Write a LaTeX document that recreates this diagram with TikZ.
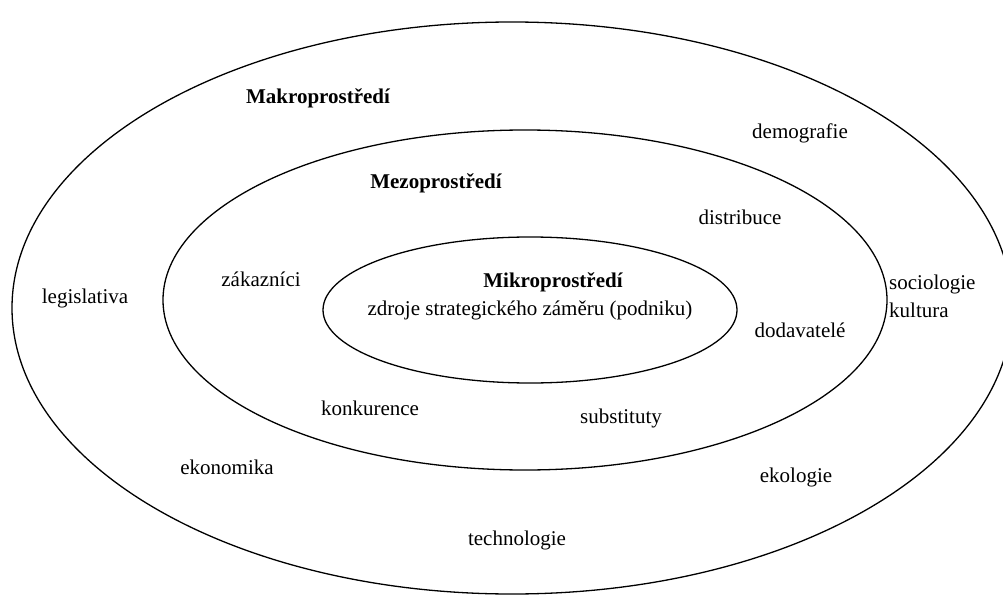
\documentclass[tikz,border=0pt]{standalone}
\usepackage{fontspec}
\setmainfont{Liberation Serif}
\begin{document}
\begin{tikzpicture}[x=1pt,y=1pt,
  ring/.style={draw=black,line width=1.3pt},
  lbl/.style={font=\fontsize{21}{28}\selectfont,inner sep=0pt,anchor=center},
  head/.style={lbl,font=\fontsize{21}{28}\selectfont\bfseries}]
\useasboundingbox (0,0) rectangle (1003,-596);
\fill[white] (0,0) rectangle (1003,-596);
% ellipses
\draw[ring] (512,-308) ellipse [x radius=500,y radius=286];
\draw[ring] (525,-300) ellipse [x radius=362,y radius=170];
\draw[ring] (530,-310) ellipse [x radius=207,y radius=73];
% outer labels
\node[head] (makro) at (318,-98) {Makroprostředí};
\node[lbl] (demo) at (800,-133) {demografie};
\node[lbl] (legis) at (85,-298) {legislativa};
\node[lbl,align=left,anchor=west] (socio) at (889,-296) {sociologie\\kultura};
\node[lbl] (ekon) at (227,-467) {ekonomika};
\node[lbl] (ekol) at (796,-477) {ekologie};
\node[lbl] (tech) at (517,-540) {technologie};
% middle labels
\node[head] (mezo) at (436,-183) {Mezoprostředí};
\node[lbl] (distr) at (740,-217) {distribuce};
\node[lbl] (zak) at (261,-279) {zákazníci};
\node[lbl] (doda) at (800,-330) {dodavatelé};
\node[lbl] (konk) at (370,-408) {konkurence};
\node[lbl] (subst) at (621,-418) {substituty};
% inner labels
\node[head] (mikro) at (553,-282) {Mikroprostředí};
\node[lbl] (zdroje) at (530,-310) {zdroje strategického záměru (podniku)};
\end{tikzpicture}
\end{document}
